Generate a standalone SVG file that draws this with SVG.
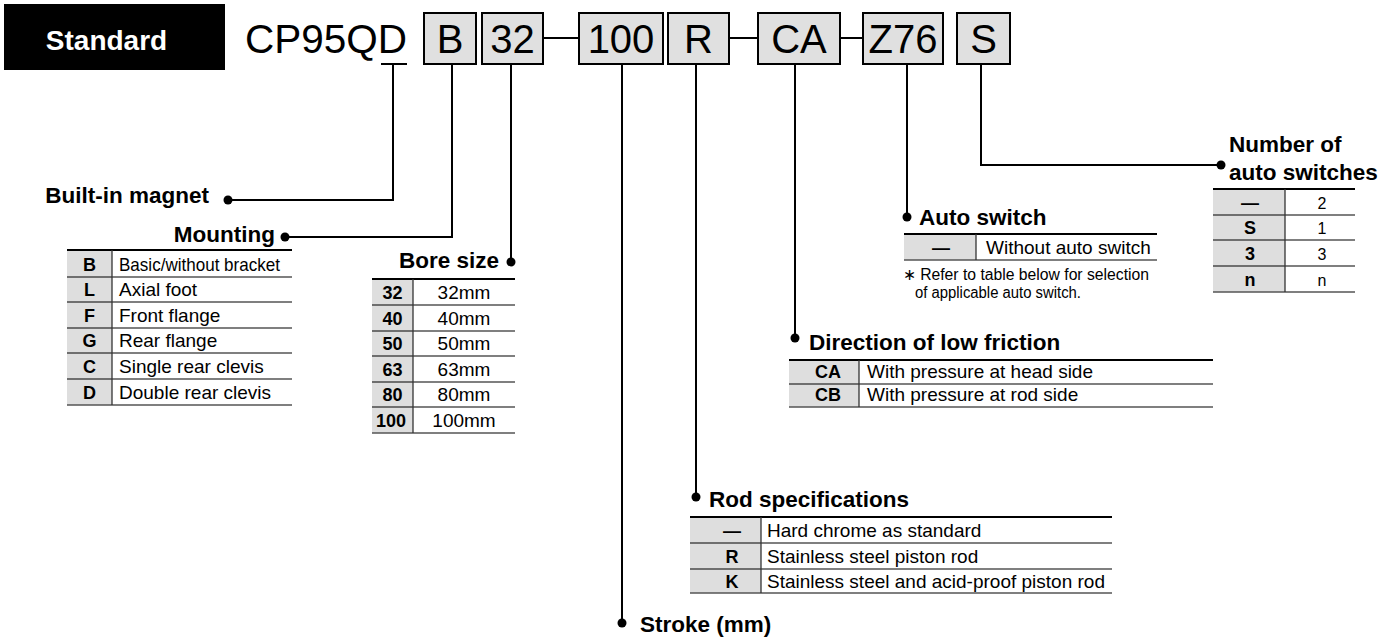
<svg xmlns="http://www.w3.org/2000/svg" width="1399" height="638" viewBox="0 0 1399 638">
<style>
text{font-family:"Liberation Sans",Arial,sans-serif;fill:#000}
.box{fill:#e0e0e0;stroke:#000;stroke-width:2}
.bt{font-size:40px;text-anchor:middle}
.lbl{font-size:22.5px;font-weight:bold}
.t{font-size:19px}
.c{font-size:18px;font-weight:bold;text-anchor:middle}
.m{text-anchor:middle}
.gc{fill:#dedede}
.th{stroke:#000;stroke-width:2.2}
.tr{stroke:#000;stroke-width:1.2}
.tb{stroke:#555;stroke-width:1.5}
.tv{stroke:#333;stroke-width:1.3}
.cn{fill:none;stroke:#000;stroke-width:2}
.dot{fill:#000}
.note{font-size:16px}
</style>

<g id="standard-tag">
<rect x="4" y="4" width="221" height="66" fill="#000"/>
<text x="106.5" y="50" font-size="28" font-weight="bold" text-anchor="middle" style="fill:#fff">Standard</text>
</g>

<g id="model-code">
<text x="245" y="53" font-size="40.5">CP95QD</text>
</g>
<g id="box-B"><rect class="box" x="424" y="13" width="52" height="51"/><text class="bt" x="450" y="53">B</text></g>
<g id="box-32"><rect class="box" x="482" y="13" width="61" height="51"/><text class="bt" x="512.5" y="53">32</text></g>
<g id="box-100"><rect class="box" x="579" y="13" width="84" height="51"/><text class="bt" x="621" y="53">100</text></g>
<g id="box-R"><rect class="box" x="668" y="13" width="61" height="51"/><text class="bt" x="698.5" y="53">R</text></g>
<g id="box-CA"><rect class="box" x="758" y="13" width="82" height="51"/><text class="bt" x="799" y="53">CA</text></g>
<g id="box-Z76"><rect class="box" x="863" y="13" width="80" height="51"/><text class="bt" x="903" y="53">Z76</text></g>
<g id="box-S"><rect class="box" x="957" y="13" width="53" height="51"/><text class="bt" x="983.5" y="53">S</text></g>

<g id="connectors">
<path class="cn" d="M381 64H407M393 64V200H228"/>
<path class="cn" d="M452 64V237H285"/>
<path class="cn" d="M511 64V262"/>
<path class="cn" d="M622 64V623"/>
<path class="cn" d="M696 64V497"/>
<path class="cn" d="M795 64V338"/>
<path class="cn" d="M907 64V217"/>
<path class="cn" d="M981 64V165H1221"/>
<path class="cn" d="M543 38H579M729 38H758M840 38H863"/>
<circle class="dot" cx="228" cy="200" r="4.5"/>
<circle class="dot" cx="285" cy="237" r="4.5"/>
<circle class="dot" cx="511" cy="262" r="4.5"/>
<circle class="dot" cx="622" cy="623" r="4.5"/>
<circle class="dot" cx="696" cy="497" r="4.5"/>
<circle class="dot" cx="795" cy="338" r="4.5"/>
<circle class="dot" cx="907" cy="217" r="4.5"/>
<circle class="dot" cx="1221" cy="165" r="4.5"/>
</g>

<g id="built-in-magnet">
<text class="lbl" x="209" y="203" text-anchor="end">Built-in magnet</text>
</g>

<g id="mounting">
<text class="lbl" x="275" y="242" text-anchor="end">Mounting</text>
<rect class="gc" x="67" y="250" width="45" height="155"/>
<line class="th" x1="67" y1="250" x2="292" y2="250"/>
<path class="tr" d="M67 277H292M67 302H292M67 328H292M67 353H292M67 379H292"/>
<line class="tb" x1="67" y1="405" x2="292" y2="405"/>
<line class="tv" x1="112" y1="250" x2="112" y2="405"/>
<text class="c" x="89.5" y="271">B</text>
<text class="c" x="89.5" y="296">L</text>
<text class="c" x="89.5" y="322">F</text>
<text class="c" x="89.5" y="347">G</text>
<text class="c" x="89.5" y="373">C</text>
<text class="c" x="89.5" y="399">D</text>
<text class="t" x="119" y="271" textLength="161" lengthAdjust="spacingAndGlyphs">Basic/without bracket</text>
<text class="t" x="119" y="296">Axial foot</text>
<text class="t" x="119" y="322">Front flange</text>
<text class="t" x="119" y="347">Rear flange</text>
<text class="t" x="119" y="373">Single rear clevis</text>
<text class="t" x="119" y="399">Double rear clevis</text>
</g>

<g id="bore-size">
<text class="lbl" x="499" y="268" text-anchor="end">Bore size</text>
<rect class="gc" x="372" y="279" width="41" height="154"/>
<line class="th" x1="372" y1="279" x2="515" y2="279"/>
<path class="tr" d="M372 305H515M372 331H515M372 356H515M372 382H515M372 407H515"/>
<line class="tb" x1="372" y1="433" x2="515" y2="433"/>
<line class="tv" x1="413" y1="279" x2="413" y2="433"/>
<text class="c" x="392.5" y="299">32</text>
<text class="c" x="392.5" y="325">40</text>
<text class="c" x="392.5" y="350">50</text>
<text class="c" x="392.5" y="376">63</text>
<text class="c" x="392.5" y="401">80</text>
<text class="c" x="391" y="427">100</text>
<text class="t m" x="464" y="299">32mm</text>
<text class="t m" x="464" y="325">40mm</text>
<text class="t m" x="464" y="350">50mm</text>
<text class="t m" x="464" y="376">63mm</text>
<text class="t m" x="464" y="401">80mm</text>
<text class="t m" x="464" y="427">100mm</text>
</g>

<g id="auto-switch">
<text class="lbl" x="919" y="225">Auto switch</text>
<rect class="gc" x="904" y="234" width="72" height="26"/>
<line class="th" x1="904" y1="234" x2="1157" y2="234"/>
<line class="tb" x1="904" y1="260" x2="1157" y2="260"/>
<line class="tv" x1="976" y1="234" x2="976" y2="260"/>
<text class="c" x="941" y="254">—</text>
<text class="t" x="986" y="254">Without auto switch</text>
<text class="note" x="903" y="280" textLength="246" lengthAdjust="spacingAndGlyphs">∗ Refer to table below for selection</text>
<text class="note" x="915" y="298" textLength="166" lengthAdjust="spacingAndGlyphs">of applicable auto switch.</text>
</g>

<g id="number-of-auto-switches">
<text class="lbl" x="1229" y="152">Number of</text>
<text class="lbl" x="1229" y="180">auto switches</text>
<rect class="gc" x="1213" y="189" width="72" height="103"/>
<line class="th" x1="1213" y1="189" x2="1355" y2="189"/>
<path class="tr" d="M1213 215H1355M1213 240H1355M1213 266H1355"/>
<line class="tb" x1="1213" y1="292" x2="1355" y2="292"/>
<line class="tv" x1="1285" y1="189" x2="1285" y2="292"/>
<text class="c" x="1250" y="209">—</text>
<text class="c" x="1250" y="234">S</text>
<text class="c" x="1250" y="260">3</text>
<text class="c" x="1250" y="286">n</text>
<text class="m" font-size="16" x="1322" y="209">2</text>
<text class="m" font-size="16" x="1322" y="234">1</text>
<text class="m" font-size="16" x="1322" y="260">3</text>
<text class="m" font-size="16" x="1322" y="286">n</text>
</g>

<g id="direction-of-low-friction">
<text class="lbl" x="809" y="350">Direction of low friction</text>
<rect class="gc" x="789" y="360" width="70" height="47"/>
<line class="th" x1="789" y1="360" x2="1213" y2="360"/>
<line class="tr" x1="789" y1="384" x2="1213" y2="384"/>
<line class="tb" x1="789" y1="407" x2="1213" y2="407"/>
<line class="tv" x1="859" y1="360" x2="859" y2="407"/>
<text class="c" x="828" y="378">CA</text>
<text class="c" x="828" y="401">CB</text>
<text class="t" x="867" y="378">With pressure at head side</text>
<text class="t" x="867" y="401">With pressure at rod side</text>
</g>

<g id="rod-specifications">
<text class="lbl" x="709" y="507">Rod specifications</text>
<rect class="gc" x="690" y="517" width="71" height="76"/>
<line class="th" x1="690" y1="517" x2="1112" y2="517"/>
<path class="tr" d="M690 543H1112M690 569H1112"/>
<line class="tb" x1="690" y1="593" x2="1112" y2="593"/>
<line class="tv" x1="761" y1="517" x2="761" y2="593"/>
<text class="c" x="732" y="537">—</text>
<text class="c" x="732" y="563">R</text>
<text class="c" x="732" y="588">K</text>
<text class="t" x="767" y="537">Hard chrome as standard</text>
<text class="t" x="767" y="563">Stainless steel piston rod</text>
<text class="t" x="767" y="588">Stainless steel and acid-proof piston rod</text>
</g>

<g id="stroke">
<text class="lbl" x="640" y="632">Stroke (mm)</text>
</g>
</svg>
